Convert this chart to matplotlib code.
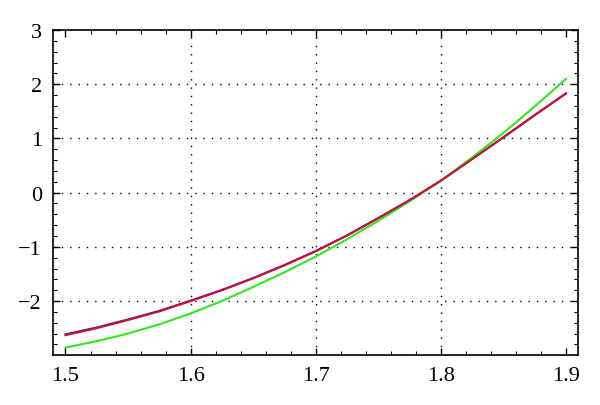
import matplotlib
matplotlib.use("Agg")
import matplotlib.pyplot as plt
from matplotlib.ticker import MultipleLocator

# values
x = [1.5, 1.525, 1.55, 1.575, 1.6, 1.625, 1.65, 1.675, 1.7,
     1.725, 1.75, 1.775, 1.8, 1.825, 1.85, 1.875, 1.9]
red = [-2.63, -2.50, -2.35, -2.19, -2.00, -1.80, -1.58, -1.34, -1.08,
       -0.79, -0.47, -0.14, 0.22, 0.62, 1.02, 1.43, 1.83]
blue = [-2.615, -2.488, -2.34, -2.182, -1.993, -1.795, -1.576, -1.337, -1.078,
        -0.79, -0.47, -0.14, 0.22, 0.62, 1.02, 1.43, 1.83]
green = [-2.86, -2.74, -2.60, -2.43, -2.23, -2.00, -1.74, -1.47, -1.18,
         -0.86, -0.52, -0.16, 0.22, 0.65, 1.10, 1.59, 2.10]

x_ticks = [1.5, 1.6, 1.7, 1.8, 1.9]
y_ticks = [-2, -1, 0, 1, 2, 3]
x_grid = [1.6, 1.7, 1.8]
y_grid = [-2, -1, 0, 1, 2]

plt.rcParams["font.family"] = ["Liberation Serif", "DejaVu Serif"]

fig = plt.figure(figsize=(6, 4.06), dpi=100)
ax = fig.add_axes([0.0883, 0.1239, 0.875, 0.7997])

# dotted grid only on the inner major lines
for gx in x_grid:
    ax.axvline(gx, color="black", linestyle=(0, (1, 5)), linewidth=1.0, zorder=1)
for gy in y_grid:
    ax.axhline(gy, color="black", linestyle=(0, (1, 5)), linewidth=1.0, zorder=1)

ax.plot(x, blue, color="#2a2a9a", linewidth=1.5, zorder=2)
ax.plot(x, green, color="#33e622", linewidth=1.5, zorder=3)
ax.plot(x, red, color="#cc1133", linewidth=1.5, zorder=4)

ax.set_xlim(1.49, 1.9096)
ax.set_ylim(-2.99, 3.0)
ax.set_xticks(x_ticks)
ax.set_yticks(y_ticks)
ax.set_xticklabels([f"{v:.1f}" for v in x_ticks])
ax.set_yticklabels([str(v).replace("-", "\u2212") for v in y_ticks])
ax.xaxis.set_minor_locator(MultipleLocator(0.02))
ax.yaxis.set_minor_locator(MultipleLocator(0.2))

ax.tick_params(which="both", direction="in", top=True, right=True, labelsize=16)
ax.tick_params(which="major", length=5, width=1, pad=8)
ax.tick_params(which="minor", length=3, width=0.8)
for s in ax.spines.values():
    s.set_linewidth(1.2)

fig.savefig("out.png", dpi=100)
